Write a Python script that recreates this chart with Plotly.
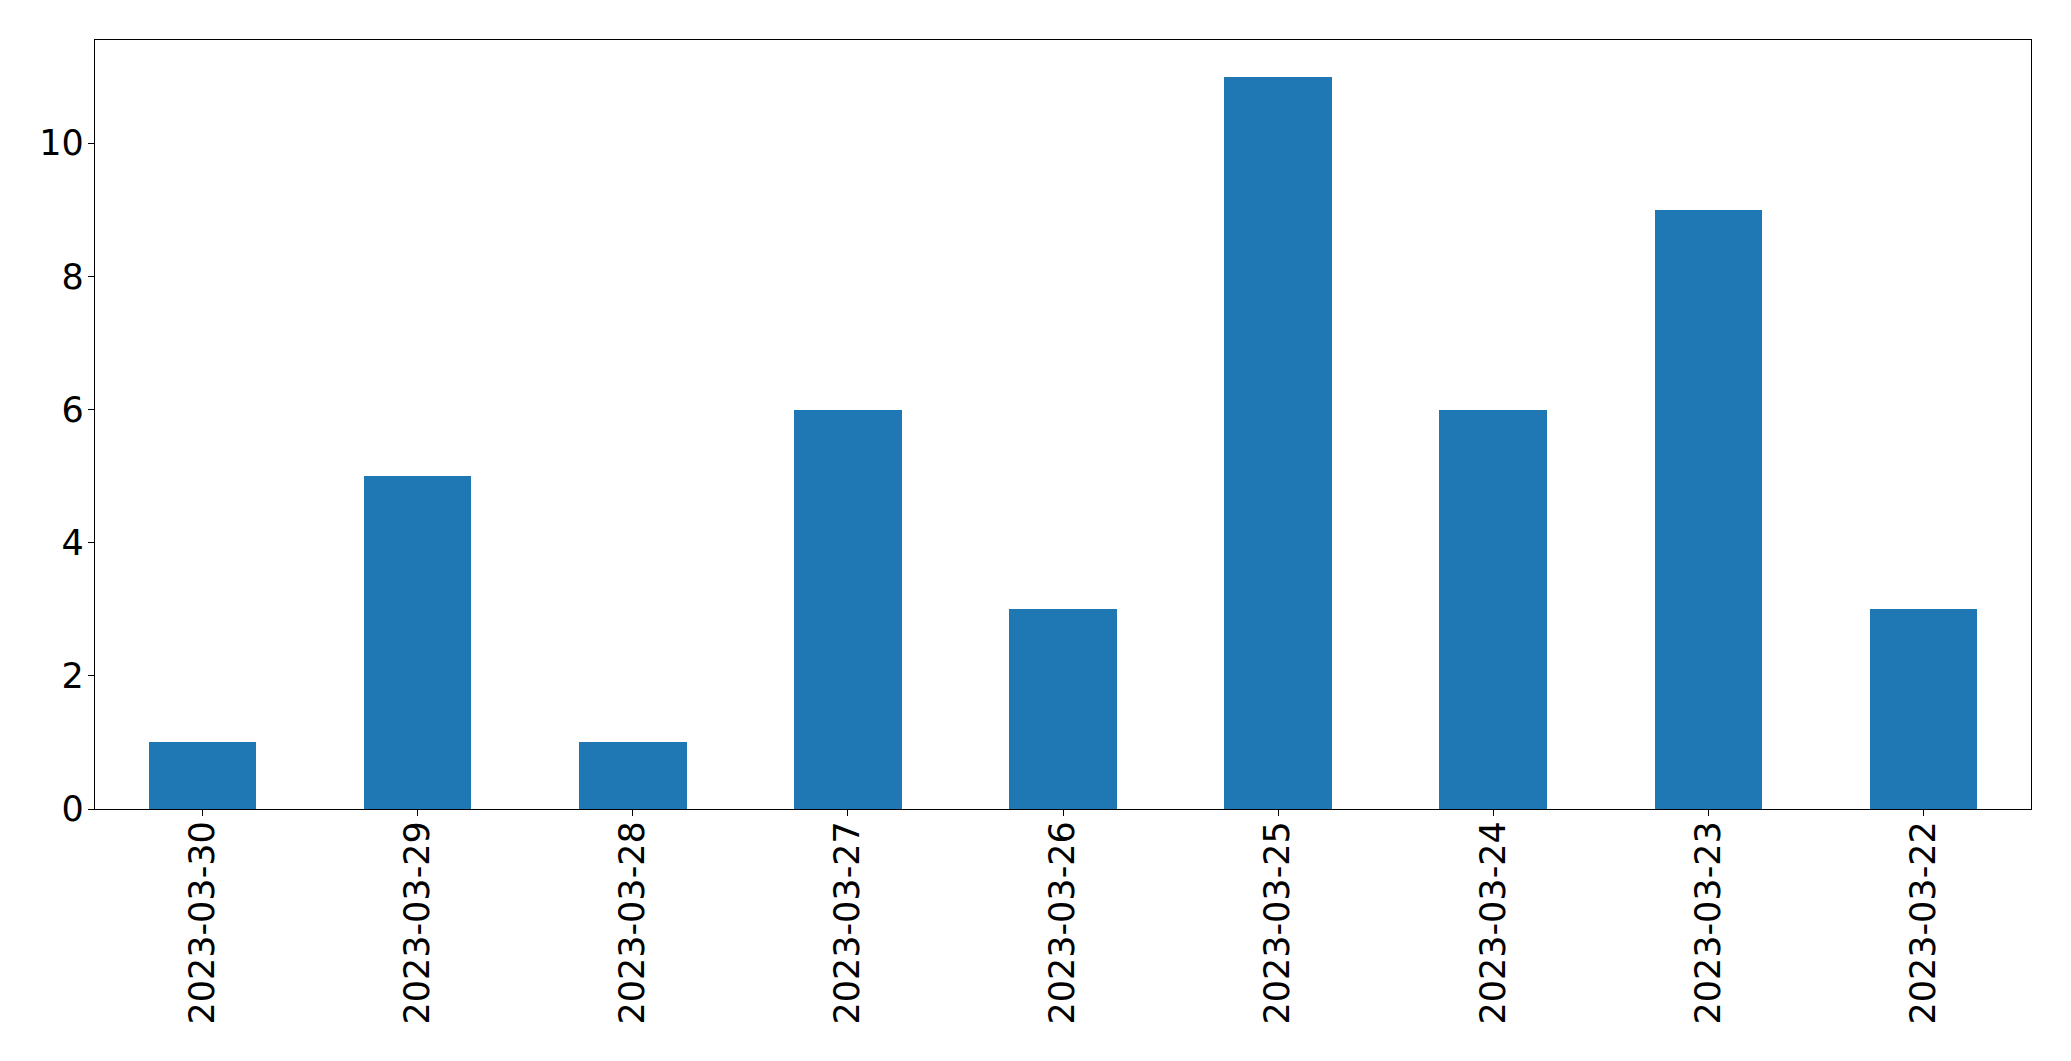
import plotly.graph_objects as go

dates = ["2023-03-30", "2023-03-29", "2023-03-28", "2023-03-27", "2023-03-26",
         "2023-03-25", "2023-03-24", "2023-03-23", "2023-03-22"]
counts = [1, 5, 1, 6, 3, 11, 6, 9, 3]
y_ticks = [0, 2, 4, 6, 8, 10]

fig = go.Figure(go.Bar(x=dates, y=counts, width=0.5, marker=dict(color="#1f77b4", line=dict(width=0))))

fig.update_layout(
    width=2055, height=1045,
    margin=dict(l=86.5, r=31.5, t=31.5, b=244, autoexpand=False),
    paper_bgcolor="white", plot_bgcolor="white",
    font=dict(family="DejaVu Sans", size=35, color="black"),
    showlegend=False,
    bargap=0,
)
fig.update_xaxes(
    type="category", range=[-0.5, 8.5], tickangle=-90,
    showline=True, mirror=True, linecolor="black", linewidth=1.4,
    ticks="outside", ticklen=6, tickwidth=1.4, tickcolor="black",
    showgrid=False, zeroline=False, ticklabelstandoff=-9,
)
fig.update_yaxes(
    range=[0, 11.55], tickvals=y_ticks,
    showline=True, mirror=True, linecolor="black", linewidth=1.4,
    ticks="outside", ticklen=6, tickwidth=1.4, tickcolor="black",
    showgrid=False, zeroline=False, ticklabelstandoff=-3,
)

fig.write_html("out.html")
